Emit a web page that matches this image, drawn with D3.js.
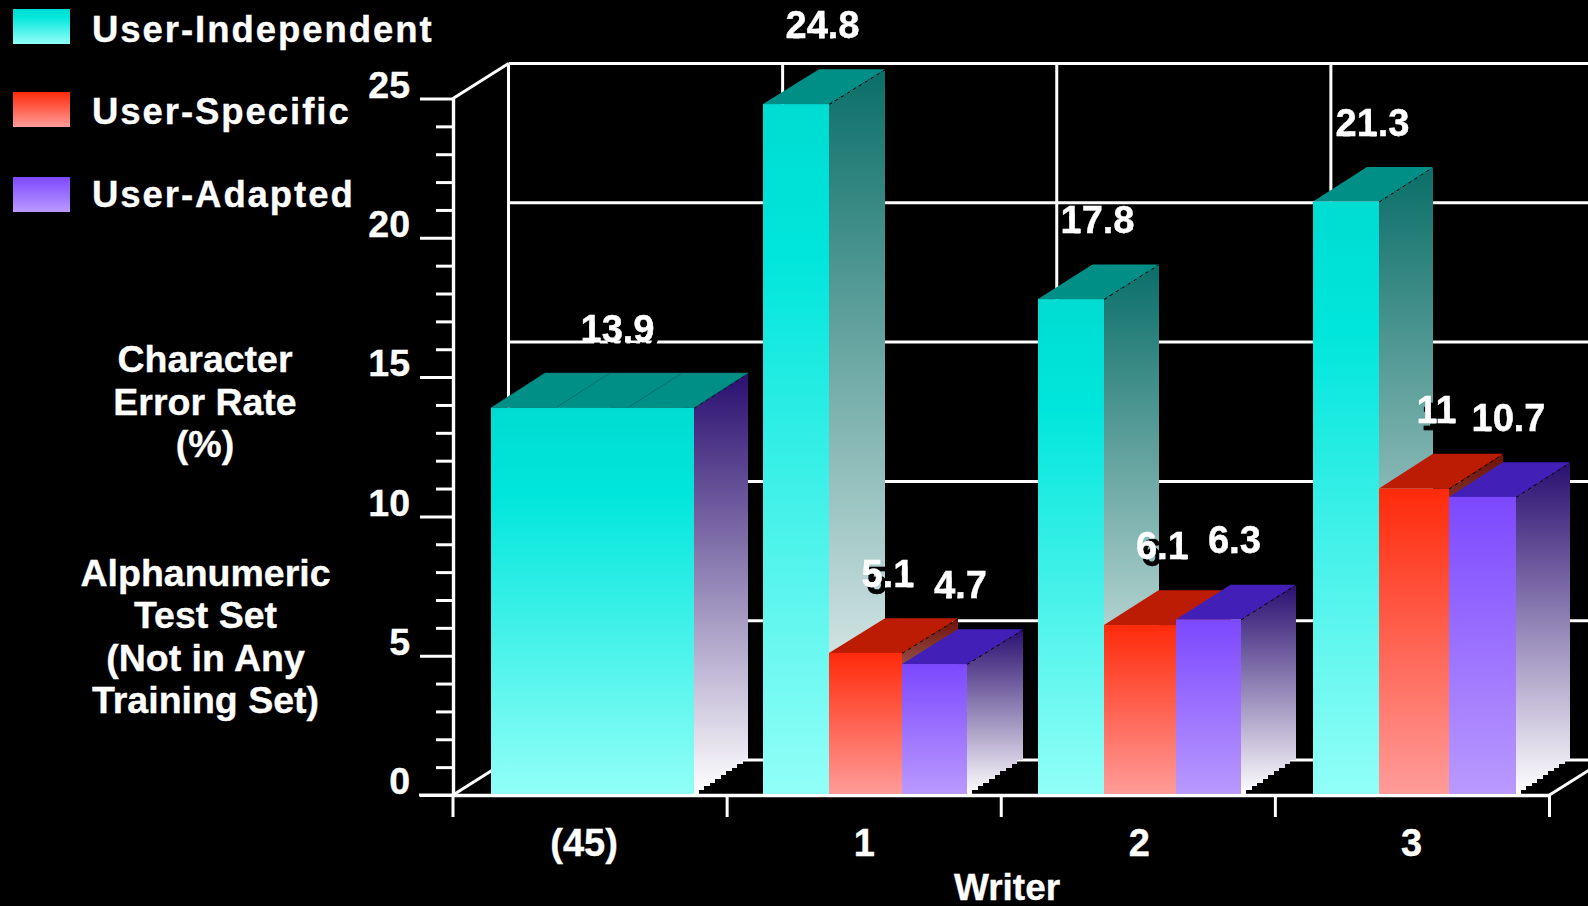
<!DOCTYPE html>
<html>
<head>
<meta charset="utf-8">
<script src="https://cdn.jsdelivr.net/npm/d3@7/dist/d3.min.js"></script>
<style>
  html, body { margin: 0; padding: 0; background: #000; overflow: hidden; }
  svg { display: block; }
  text { font-family: "Liberation Sans", Arial, sans-serif; font-weight: 700; fill: #fff; stroke: #fff; stroke-width: 0.35px; }
</style>
</head>
<body>
<svg id="chart" width="1588" height="906"></svg>
<script>
// Writer categories and character error rates (%) per training regime.
const writers = ["(45)", "1", "2", "3"];
const userIndependent = [13.9, 24.8, 17.8, 21.3];
const userSpecific = [13.9, 5.1, 6.1, 11];
const userAdapted = [13.9, 4.7, 6.3, 10.7];
const seriesNames = ["User-Independent", "User-Specific", "User-Adapted"];
const seriesValues = [userIndependent, userSpecific, userAdapted];
const yMajorTicks = [0, 5, 10, 15, 20, 25];
const yMinorTicks = d3.range(0, 26);
const yTitle = ["Character", "Error Rate", "(%)"];
const testSetNote = ["Alphanumeric", "Test Set", "(Not in Any", "Training Set)"];
const xTitle = "Writer";

const W = 1588;
const svg = d3.select("#chart");
const defs = svg.append("defs");

// Oblique projection used for the back wall and for the bar depth.
const wallDx = 55.5, wallDy = -35;
const barDy = -34.7;

const y = d3.scaleLinear().domain([0, 25]).range([795, 98.5]);
const x = d3.scaleBand().domain(writers).range([453, 1549.5]);

// Cluster layout: left edge, bar edges inside the cluster, and receding depth.
const clusterX = d3.scaleOrdinal().domain(writers).range([491, 763, 1038, 1313]);
const clusterDepth = d3.scaleOrdinal().domain(writers).range([54, 56, 54.5, 54]);
const slotEdges = [[0, 65, 137, 203], [0, 66, 139, 204], [0, 66, 138, 203], [0, 66, 136, 203]];
const slotX = slotEdges.map(edges => d3.scaleLinear().domain([0, 1, 2, 3]).range(edges));

const palette = [
  { front: [["0%", "#00dcd2"], ["22%", "#00e6dc"], ["100%", "#92fff8"]], top: "#008f86", side: "#0a6e68" },
  { front: [["0%", "#ff2a0a"], ["100%", "#ff9c9a"]], top: "#bc1c04", side: "#6e1006" },
  { front: [["0%", "#7c48ff"], ["100%", "#ba9aff"]], top: "#4220b8", side: "#2a0f70" }
];

function gradient(id, stops) {
  const g = defs.append("linearGradient").attr("id", id)
    .attr("x1", 0).attr("y1", 0).attr("x2", 0).attr("y2", 1);
  stops.forEach(([offset, color]) => g.append("stop").attr("offset", offset).attr("stop-color", color));
}
palette.forEach((p, i) => {
  gradient("front" + i, p.front);
  gradient("side" + i, [["0%", p.side], ["100%", "#ffffff"]]);
});

// Hard black drop copy behind the value labels.
defs.append("filter").attr("id", "labelDrop")
  .attr("x", "-20%").attr("y", "-20%").attr("width", "150%").attr("height", "150%")
  .append("feDropShadow")
  .attr("dx", 5).attr("dy", 7).attr("stdDeviation", 0)
  .attr("flood-color", "#000").attr("flood-opacity", 1);

// Back wall: horizontal grid, vertical dividers and the connecting diagonals.
const wall = svg.append("g").attr("stroke", "#fff").attr("stroke-width", 3).attr("fill", "none");
wall.selectAll("line.h").data(yMajorTicks).join("line").attr("class", "h")
  .attr("x1", x.range()[0] + wallDx).attr("x2", W)
  .attr("y1", d => y(d) + wallDy).attr("y2", d => y(d) + wallDy);
const wallXs = writers.map(w => x(w));
wall.selectAll("line.v").data(wallXs).join("line").attr("class", "v")
  .attr("x1", d => d + wallDx).attr("x2", d => d + wallDx)
  .attr("y1", y(25) + wallDy).attr("y2", y(0) + wallDy);
const endX = x.range()[1];
wall.append("line").attr("x1", x.range()[0]).attr("y1", y(25))
  .attr("x2", x.range()[0] + wallDx).attr("y2", y(25) + wallDy);
wall.append("line").attr("x1", x.range()[0]).attr("y1", y(0))
  .attr("x2", x.range()[0] + wallDx).attr("y2", y(0) + wallDy);
wall.append("line").attr("x1", endX).attr("y1", y(0))
  .attr("x2", endX + wallDx).attr("y2", y(0) + wallDy);

// Y axis with every unit ticked and each fifth unit longer and labelled.
const yAxis = svg.append("g").attr("transform", `translate(${x.range()[0]},0)`)
  .call(d3.axisLeft(y).tickValues(yMinorTicks).tickSize(17).tickSizeOuter(0)
    .tickFormat(d => yMajorTicks.includes(d) ? d : ""));
yAxis.select(".domain").attr("stroke", "#fff").attr("stroke-width", 3.4);
yAxis.selectAll(".tick line").attr("stroke", "#fff").attr("stroke-width", 3)
  .attr("x2", d => yMajorTicks.includes(d) ? -33 : -17);
yAxis.selectAll(".tick text").attr("x", -43).attr("dy", "-0.03em")
  .style("font-size", "37.5px").attr("fill", "#fff");

// X axis with ticks between the clusters.
const xAxis = svg.append("g").attr("transform", `translate(0,${y(0)})`)
  .call(d3.axisBottom(x).tickSize(0).tickSizeOuter(0));
xAxis.select(".domain").attr("stroke", "#fff").attr("stroke-width", 3.4);
xAxis.selectAll(".tick line").remove();
xAxis.selectAll(".tick text").attr("y", 0).attr("dy", "60.5px")
  .attr("dx", d => d === "(45)" ? -6 : d === "2" ? 1 : d === "3" ? -1 : 0)
  .style("font-size", "38px").attr("fill", "#fff");
svg.append("g").selectAll("line")
  .data(wallXs.concat(endX)).join("line")
  .attr("x1", d => d).attr("x2", d => d)
  .attr("y1", y(0)).attr("y2", y(0) + 22)
  .attr("stroke", "#fff").attr("stroke-width", 3);
svg.append("line").attr("x1", 419).attr("x2", x.range()[0]).attr("y1", y(0)).attr("y2", y(0))
  .attr("stroke", "#fff").attr("stroke-width", 3);

// Side face outline: straight at the top, stair-stepped along the receding foot.
function sidePath(x1, yTop, yBase, depth) {
  const n = 9, inset = 5;
  const stepX = k => x1 + inset + (depth - inset) * k / n;
  const stepY = k => yBase + barDy * (k + 0.3) / (n + 0.3);
  const stairs = d3.range(n, -1, -1).map(k =>
    k > 0 ? `L${stepX(k)},${stepY(k)}L${stepX(k - 1)},${stepY(k)}` : `L${stepX(0)},${stepY(0)}`);
  return `M${x1},${yTop}L${x1 + depth},${yTop + barDy}L${x1 + depth},${yBase + barDy}`
    + stairs.join("") + `L${x1 + inset},${yBase}L${x1},${yBase}Z`;
}

const bars = svg.append("g");
writers.forEach((w, gi) => {
  const depth = clusterDepth(w);
  seriesValues.forEach((values, si) => {
    const v = values[gi];
    // The pooled "(45)" cluster reads as one solid block in the first colour.
    const look = gi === 0 ? 0 : si;
    const x0 = clusterX(w) + slotX[gi](si);
    const x1 = clusterX(w) + slotX[gi](si + 1);
    const yTop = y(v), yBase = y(0);

    bars.append("path")
      .attr("d", sidePath(x1, yTop, yBase, depth))
      .attr("fill", `url(#side${si})`)
      .attr("shape-rendering", "crispEdges");

    bars.append("line")
      .attr("x1", x1).attr("y1", yTop).attr("x2", x1 + depth).attr("y2", yTop + barDy)
      .attr("stroke", "#000").attr("stroke-width", 1.8).attr("stroke-dasharray", "3 4");

    bars.append("path")
      .attr("d", `M${x0},${yTop}L${x0 + depth},${yTop + barDy}L${x1 + depth},${yTop + barDy}L${x1},${yTop}Z`)
      .attr("fill", palette[look].top)
      .attr("stroke", gi === 0 ? "#00716a" : "none").attr("stroke-width", 0.6);

    bars.append("rect")
      .attr("x", x0).attr("y", yTop)
      .attr("width", x1 - x0 + (gi === 0 && si < 2 ? 1 : 0)).attr("height", yBase - yTop)
      .attr("fill", `url(#front${look})`);
  });
});

// Redraw the floor line across the foot of the bars.
svg.append("line").attr("x1", x.range()[0]).attr("x2", endX).attr("y1", y(0) + 0.5).attr("y2", y(0) + 0.5)
  .attr("stroke", "#fff").attr("stroke-width", 3);

// Value labels above the bars, skewed toward the bar's depth.
const labelOffsetY = -66, labelSize = 38;
const seriesLabelNudge = [1.5, -2.5, 1];
const valueLabels = svg.append("g").style("font-size", labelSize + "px").attr("text-anchor", "middle");
seriesValues.forEach((values, si) => {
  writers.forEach((w, gi) => {
    if (gi === 0 && si > 0) return;
    const v = values[gi];
    const cx = gi === 0
      ? clusterX(w) + slotX[gi](3) / 2 + 25
      : clusterX(w) + (slotX[gi](si) + slotX[gi](si + 1)) / 2 + 25 + seriesLabelNudge[si];
    valueLabels.append("text").attr("x", cx).attr("y", y(v) + labelOffsetY)
      .attr("filter", "url(#labelDrop)").text(v);
  });
});

// Legend.
const legend = svg.append("g");
const legendSwatchY = d3.scaleOrdinal().domain(seriesNames).range([9, 92, 177]);
const legendTextY = d3.scaleOrdinal().domain(seriesNames).range([41.5, 124, 206.5]);
seriesNames.forEach((name, i) => {
  legend.append("rect").attr("x", 13).attr("y", legendSwatchY(name))
    .attr("width", 57).attr("height", 35).attr("fill", `url(#front${i})`);
  legend.append("text").attr("x", 92).attr("y", legendTextY(name))
    .style("font-size", "36.5px").style("letter-spacing", "1.95px").text(name);
});

// Left-hand annotations and the x axis title.
const notes = svg.append("g").attr("text-anchor", "middle").style("font-size", "37.5px");
const titleBaselines = [372, 415, 457];
const noteBaselines = [585.5, 628, 670.5, 713];
yTitle.forEach((t, i) => notes.append("text").attr("x", 205).attr("y", titleBaselines[i]).text(t));
testSetNote.forEach((t, i) => notes.append("text").attr("x", 205.5).attr("y", noteBaselines[i]).text(t));
svg.append("text").attr("x", 1007).attr("y", 899.5).attr("text-anchor", "middle")
  .style("font-size", "37px").text(xTitle);
</script>
</body>
</html>
